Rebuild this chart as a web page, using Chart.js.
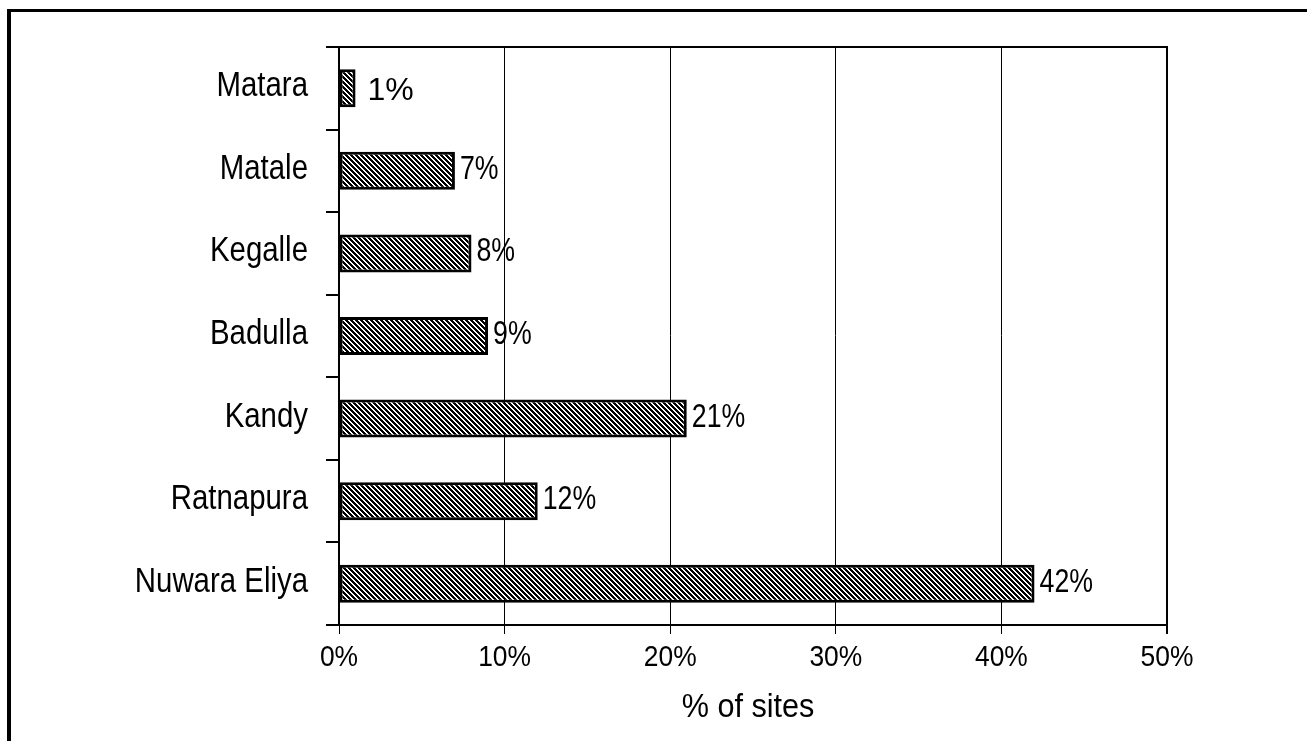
<!DOCTYPE html>
<html>
<head>
<meta charset="utf-8">
<script src="https://cdn.jsdelivr.net/npm/chart.js@4"></script>
<style>
  html, body { margin: 0; padding: 0; background: #fff; }
  #wrap { position: relative; width: 1307px; height: 741px; }
</style>
</head>
<body>
<div id="wrap"><canvas id="chart" width="1307" height="741"></canvas></div>
<script>
// districts, top to bottom
const districts = ["Matara", "Matale", "Kegalle", "Badulla", "Kandy", "Ratnapura", "Nuwara Eliya"];
// share of sites per district (%)
const sitePct = [1, 7, 8, 9, 21, 12, 42];
const xTicks = [0, 10, 20, 30, 40, 50];
const xTitle = "% of sites";
const bigLabel = "Matara";

const sans = "'Liberation Sans', Arial, sans-serif";

// narrow-looking text: regular sans squeezed horizontally
function narrowText(ctx, text, x, y, size, squeeze, align) {
  ctx.save();
  ctx.font = size + "px " + sans;
  ctx.textAlign = align;
  ctx.textBaseline = "alphabetic";
  ctx.translate(x, y);
  ctx.scale(squeeze, 1);
  ctx.fillText(text, 0, 0);
  ctx.restore();
}

// diagonal hatch fill for the bars
function makeHatch() {
  const size = 5;
  const c = document.createElement("canvas");
  c.width = size; c.height = size;
  const g = c.getContext("2d");
  const img = g.createImageData(size, size);
  for (let y = 0; y < size; y++) {
    for (let x = 0; x < size; x++) {
      const on = ((x - y + size) % size) < 3;
      const i = (y * size + x) * 4;
      const v = on ? 0 : 255;
      img.data[i] = v; img.data[i + 1] = v; img.data[i + 2] = v; img.data[i + 3] = 255;
    }
  }
  g.putImageData(img, 0, 0);
  return g.createPattern(c, "repeat");
}

// outer frame (top and left edges) plus the top/right edge of the plot box
const framePlugin = {
  id: "frame",
  beforeDraw(chart) {
    const ctx = chart.ctx;
    ctx.save();
    ctx.fillStyle = "#fff";
    ctx.fillRect(0, 0, chart.width, chart.height);
    ctx.fillStyle = "#000";
    ctx.fillRect(7, 9, 4, chart.height);
    ctx.fillRect(7, 9, chart.width, 3);
    ctx.restore();
  },
  afterDraw(chart) {
    const { ctx, chartArea: a } = chart;
    ctx.save();
    ctx.strokeStyle = "#000";
    ctx.lineWidth = 2;
    ctx.beginPath();
    ctx.moveTo(a.left, a.top);
    ctx.lineTo(a.right, a.top);
    ctx.lineTo(a.right, a.bottom);
    ctx.stroke();
    ctx.restore();
  }
};

// axis labels and title, placed from the chart's own scales
const axisText = {
  id: "axisText",
  afterDraw(chart) {
    const ctx = chart.ctx;
    const xs = chart.scales.x, ys = chart.scales.y;
    ctx.save();
    ctx.fillStyle = "#000";
    ys.ticks.forEach((t, i) => {
      narrowText(ctx, districts[i], ys.right - 31, ys.getPixelForTick(i) + 8, 35, 0.84, "right");
    });
    xs.ticks.forEach(t => {
      narrowText(ctx, t.value + "%", xs.getPixelForValue(t.value), 666, 30, 0.88, "center");
    });
    const a = chart.chartArea;
    narrowText(ctx, xTitle, (a.left + a.right) / 2 - 5, 717, 34, 0.9, "center");
    ctx.restore();
  }
};

// value labels at the end of each bar
const valueLabels = {
  id: "valueLabels",
  afterDatasetsDraw(chart) {
    const ctx = chart.ctx;
    const meta = chart.getDatasetMeta(0);
    ctx.save();
    ctx.fillStyle = "#000";
    meta.data.forEach((bar, i) => {
      const text = sitePct[i] + "%";
      if (districts[i] === bigLabel) {
        ctx.font = "32px " + sans;
        ctx.textAlign = "left";
        ctx.textBaseline = "alphabetic";
        ctx.fillText(text, bar.x + 12, bar.y + 12);
      } else {
        narrowText(ctx, text, bar.x + 5, bar.y + 8, 33, 0.81, "left");
      }
    });
    ctx.restore();
  }
};

new Chart(document.getElementById("chart"), {
  type: "bar",
  data: {
    labels: districts,
    datasets: [{
      data: sitePct,
      backgroundColor: makeHatch(),
      borderColor: "#000",
      borderWidth: 3,
      borderSkipped: false,
      categoryPercentage: 1,
      barPercentage: 0.46
    }]
  },
  options: {
    indexAxis: "y",
    responsive: false,
    animation: false,
    layout: { padding: { top: 47, right: 140, left: 0, bottom: 0 } },
    plugins: { legend: { display: false }, tooltip: { enabled: false } },
    scales: {
      x: {
        min: 0,
        max: 50,
        afterBuildTicks(scale) { scale.ticks = xTicks.map(v => ({ value: v })); },
        afterFit(scale) { scale.height = 116; },
        ticks: { display: false },
        grid: {
          color: "#000",
          lineWidth: ctx => (ctx.tick && ctx.tick.value === 50 ? 2 : 1),
          tickLength: 9
        },
        border: { color: "#000", width: 2 }
      },
      y: {
        afterFit(scale) { scale.width = 339; },
        ticks: { display: false },
        grid: {
          color: "#000",
          lineWidth: 2,
          drawOnChartArea: false,
          tickLength: 13
        },
        border: { color: "#000", width: 2 }
      }
    }
  },
  plugins: [framePlugin, valueLabels, axisText]
});
</script>
</body>
</html>
